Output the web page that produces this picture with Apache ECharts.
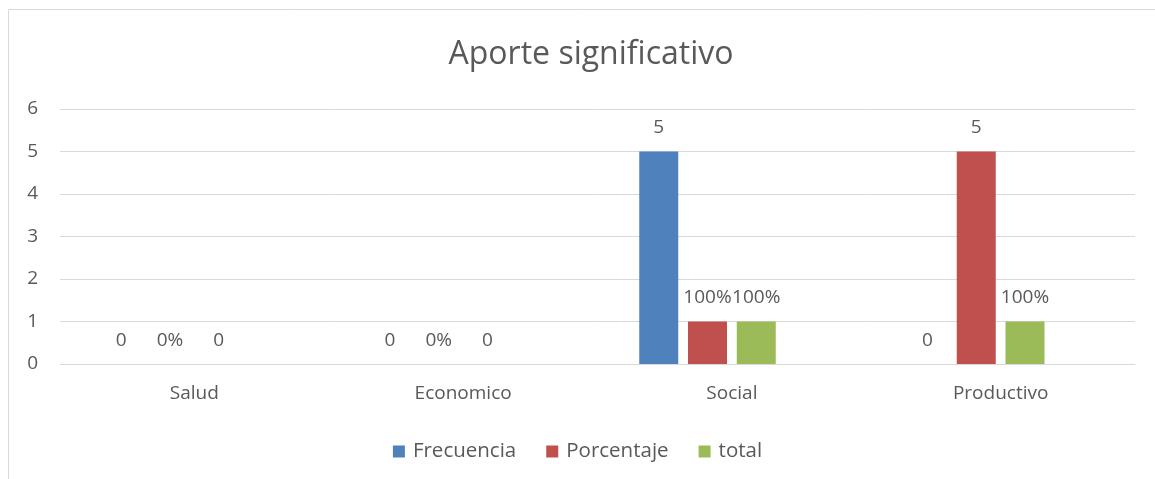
<!DOCTYPE html>
<html>
<head>
<meta charset="utf-8">
<script src="https://cdn.jsdelivr.net/npm/echarts@6/dist/echarts.min.js"></script>
<style>
  html, body { margin: 0; padding: 0; background: #fff; }
  #chart { width: 1155px; height: 479px; }
</style>
</head>
<body>
<div id="chart"></div>
<script>
// datos del grafico
var categorias = ['Salud', 'Economico', 'Social', 'Productivo'];
var frecuencia = [0, 0, 5, 0];
var porcentaje = [0, 0, 1, 5];
var total = [0, 0, 1, 1];
// etiquetas tal como aparecen en el grafico original
var etiquetasFrecuencia = ['0', '0', '5', '0'];
var etiquetasPorcentaje = ['0%', '0%', '100%', '5'];
var etiquetasTotal = ['0', '0', '100%', '100%'];
var ticksY = [0, 1, 2, 3, 4, 5, 6];

var fuente = 'Open Sans';
var gris = '#595959';

function serie(nombre, valores, etiquetas, color) {
    return {
        name: nombre,
        type: 'bar',
        barWidth: 39,
        barGap: '25%',
        itemStyle: { color: color },
        label: {
            show: true,
            position: 'top',
            distance: 14,
            color: gris,
            fontSize: 19,
            fontFamily: fuente,
            formatter: function (p) { return etiquetas[p.dataIndex]; }
        },
        data: valores
    };
}

var chart = echarts.init(document.getElementById('chart'));

var option = {
    animation: false,
    title: {
        text: 'Aporte significativo',
        left: 586,
        textAlign: 'center',
        top: 34,
        textStyle: { color: gris, fontSize: 32, fontWeight: 'normal', fontFamily: fuente }
    },
    graphic: [{
        type: 'rect',
        shape: { x: 8.5, y: 9.5, width: 1200, height: 500 },
        style: { fill: 'none', stroke: '#d9d9d9', lineWidth: 1 },
        z: -1
    }],
    legend: {
        data: ['Frecuencia', 'Porcentaje', 'total'],
        left: 'center',
        top: 436,
        itemWidth: 12,
        itemHeight: 12,
        itemGap: 30,
        icon: 'rect',
        textStyle: { color: gris, fontSize: 20.5, fontFamily: fuente, padding: [0, 0, 0, 3] }
    },
    grid: { left: 60, right: 20, top: 109, bottom: 115 },
    xAxis: {
        type: 'category',
        data: categorias,
        axisLine: { lineStyle: { color: '#d9d9d9' } },
        axisTick: { show: false },
        axisLabel: { color: gris, fontSize: 19, fontFamily: fuente, margin: 20 }
    },
    yAxis: {
        type: 'value',
        min: ticksY[0],
        max: ticksY[ticksY.length - 1],
        interval: 1,
        axisLine: { show: false },
        axisTick: { show: false },
        splitLine: { lineStyle: { color: '#d9d9d9' } },
        axisLabel: { color: gris, fontSize: 19, fontFamily: fuente, margin: 22 }
    },
    series: [
        serie('Frecuencia', frecuencia, etiquetasFrecuencia, '#4f81bd'),
        serie('Porcentaje', porcentaje, etiquetasPorcentaje, '#c0504d'),
        serie('total', total, etiquetasTotal, '#9bbb59'),
        // serie vacia (ocupa un hueco en cada grupo, como en el original)
        { name: 'vacia', type: 'bar', barWidth: 39, barGap: '25%', data: [null, null, null, null] }
    ]
};

chart.setOption(option);
</script>
</body>
</html>
